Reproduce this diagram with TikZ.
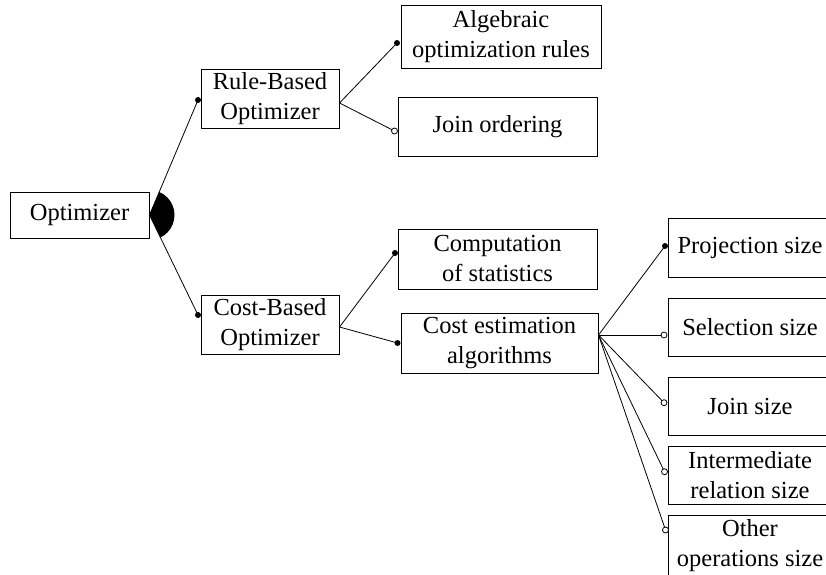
\documentclass[tikz,border=0pt]{standalone}
\usepackage{fontspec}
\setmainfont{Liberation Serif}
\usetikzlibrary{calc}
\begin{document}
\begin{tikzpicture}[x=1pt,y=1pt,
  feature/.style={draw, line width=1pt, inner sep=0pt, align=center,
    font=\fontsize{24.5}{30}\selectfont},
  link/.style={line width=0.8pt},
  mandatory/.style={fill=black, line width=0.6pt},
  optional/.style={draw=black, fill=white, line width=0.8pt}]
\useasboundingbox (0,0) rectangle (826,-574);
\clip (0,0) rectangle (826,-574);

% features
\node[feature, minimum width=139, minimum height=46] (opt) at (79.5,-215) {Optimizer};
\node[feature, minimum width=138, minimum height=59] (rb) at (270,-98.5) {Rule-Based\\Optimizer};
\node[feature, minimum width=138, minimum height=59] (cb) at (270,-324.5) {Cost-Based\\Optimizer};
\node[feature, minimum width=200, minimum height=63] (alg) at (501,-36.5) {Algebraic\\optimization rules};
\node[feature, minimum width=199, minimum height=59] (jo) at (497.5,-126.5) {Join ordering};
\node[feature, minimum width=199, minimum height=60] (comp) at (497.5,-259) {Computation\\of statistics};
\node[feature, minimum width=197, minimum height=60] (ce) at (499.5,-343) {Cost estimation\\algorithms};
\node[feature, minimum width=164, minimum height=59] (proj) at (750,-247.5) {Projection size};
\node[feature, minimum width=164, minimum height=58] (sel) at (750,-327) {Selection size};
\node[feature, minimum width=164, minimum height=58] (join) at (750,-406) {Join size};
\node[feature, minimum width=164, minimum height=58] (inter) at (750,-475.5) {Intermediate\\relation size};
\node[feature, minimum width=164, minimum height=62] (other) at (750,-546) {Other\\operations size};

% where the connectors leave their parents
\coordinate (rbout) at ($(rb.east)+(0,-4.5)$);
\coordinate (cbout) at ($(cb.east)+(0,-2.5)$);
\coordinate (ceout) at ($(ce.east)+(0,8)$);

% where the connectors reach their children
\coordinate (rbin) at ($(rb.west)+(-2.5,-1.5)$);
\coordinate (cbin) at ($(cb.west)+(-2.5,9.5)$);
\coordinate (algin) at ($(alg.west)+(-3.5,-6.5)$);
\coordinate (join-o) at ($(jo.west)+(-3,-4.5)$);
\coordinate (compin) at ($(comp.west)+(-2.5,6)$);
\coordinate (cein) at ($(ce.west)+(-3,0)$);
\coordinate (projin) at ($(proj.west)+(-2.5,1.5)$);
\coordinate (selin) at ($(sel.west)+(-3.5,-8)$);
\coordinate (joinin) at ($(join.west)+(-3.5,3.3)$);
\coordinate (interin) at ($(inter.west)+(-3,3.8)$);
\coordinate (otherin) at ($(other.west)+(-2,16)$);

% alternative group marker
\fill let \p1=($(rbin)-(opt.east)$), \p2=($(cbin)-(opt.east)$),
  \n1={atan2(\y1,\x1)}, \n2={atan2(\y2,\x2)} in
  (opt.east) -- ++(\n1:25) arc[start angle=\n1, end angle=\n2, radius=25] -- cycle;

% connectors
\draw[link] (opt.east) -- (rbin);
\draw[link] (opt.east) -- (cbin);
\draw[link] (rbout) -- (algin);
\draw[link] (rbout) -- (join-o);
\draw[link] (cbout) -- (compin);
\draw[link] (cbout) -- (cein);
\draw[link] (ceout) -- (projin);
\draw[link] (ceout) -- (selin);
\draw[link] (ceout) -- (joinin);
\draw[link] (ceout) -- (interin);
\draw[link] (ceout) -- (otherin);

% mandatory and optional ends
\foreach \c in {rbin,cbin,algin,compin,cein,projin}
  \fill[mandatory] (\c) circle[radius=3];
\foreach \c in {join-o,selin,joinin,interin,otherin}
  \filldraw[optional] (\c) circle[radius=3];
\end{tikzpicture}
\end{document}
